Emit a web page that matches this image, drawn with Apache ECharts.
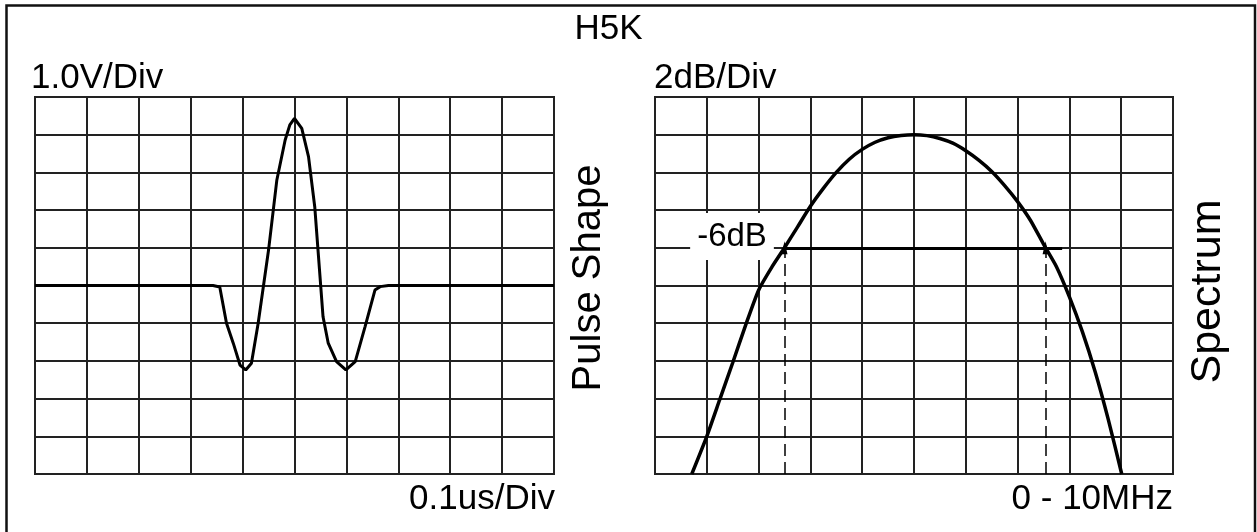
<!DOCTYPE html>
<html>
<head>
<meta charset="utf-8">
<script src="https://cdn.jsdelivr.net/npm/echarts@6/dist/echarts.min.js"></script>
<style>
  html, body { margin: 0; padding: 0; background: #fff; }
  #chart { width: 1257px; height: 532px; }
</style>
</head>
<body>
<div id="chart"></div>
<script>
// Pulse shape: time in ns (100 ns per division), amplitude in volts (1 V per division)
const pulseTimeNs = [0, 343, 356, 369, 382, 395, 406, 417, 430, 450, 466, 482, 491, 500, 514, 527, 539, 555, 565, 581, 599, 617, 636, 655, 665, 681, 1000];
const pulseVolts  = [0, 0, -0.04, -1.0, -1.53, -2.11, -2.24, -2.06, -1.0, 0.94, 2.80, 3.86, 4.26, 4.43, 4.17, 3.42, 2.09, -0.83, -1.53, -2.02, -2.24, -2.02, -1.09, -0.12, -0.03, 0, 0];

// Spectrum: frequency in MHz (0 - 10 MHz), level in dB relative to the peak (2 dB per division)
const specFreqMHz = [0.71, 1.00, 1.25, 1.50, 1.75, 2.00, 2.25, 2.50, 2.75, 3.00, 3.25, 3.50, 3.75, 4.00, 4.25, 4.50, 4.75, 5.00, 5.25, 5.50, 5.75, 6.00, 6.25, 6.50, 6.75, 7.00, 7.25, 7.50, 7.75, 8.00, 8.25, 8.50, 8.75, 9.01];
const specLevelDb = [-18, -16.0, -14.05, -12.1, -10.1, -8.25, -7.05, -6.0, -4.9, -3.8, -2.85, -2.0, -1.3, -0.78, -0.4, -0.16, -0.04, 0, -0.05, -0.2, -0.45, -0.85, -1.35, -1.95, -2.7, -3.55, -4.55, -5.8, -7.0, -8.6, -10.45, -12.6, -15.1, -18];

// -6 dB bandwidth markers
const halfPowerDb = -6;
const lowerEdgeMHz = 2.50;
const upperEdgeMHz = 7.54;
const bandLineEndMHz = 7.86;

// Text drawn on the screen
const titleText = 'H5K';
const pulseVScaleText = '1.0V/Div';
const pulseHScaleText = '0.1us/Div';
const pulseNameText = 'Pulse Shape';
const specVScaleText = '2dB/Div';
const specHScaleText = '0 - 10MHz';
const specNameText = 'Spectrum';
const halfPowerText = '-6dB';

const FONT = '"Liberation Sans", Arial, sans-serif';
const GRID_LINE = { color: '#222', width: 2 };

function zip(xs, ys) { return xs.map((x, i) => [x, ys[i]]); }

function hiddenAxis(extra) {
  return Object.assign({
    type: 'value',
    axisLine: { show: false },
    axisTick: { show: false },
    axisLabel: { show: false },
    splitLine: { show: true, lineStyle: GRID_LINE }
  }, extra);
}

function text(str, x, y, size, align, opts) {
  return Object.assign({
    type: 'text',
    x: x, y: y,
    z: 10,
    silent: true,
    style: {
      text: str,
      font: size + 'px ' + FONT,
      fill: '#000',
      align: align,
      verticalAlign: 'middle'
    }
  }, opts || {});
}

const chart = echarts.init(document.getElementById('chart'), null, { renderer: 'canvas' });

chart.setOption({
  animation: false,
  backgroundColor: '#fff',
  grid: [
    { left: 35, top: 97, width: 519, height: 377, show: true, borderColor: '#222', borderWidth: 2 },
    { left: 655, top: 97, width: 518, height: 377, show: true, borderColor: '#222', borderWidth: 2 }
  ],
  xAxis: [
    hiddenAxis({ gridIndex: 0, min: 0, max: 1000, interval: 100 }),
    hiddenAxis({ gridIndex: 1, min: 0, max: 10, interval: 1 })
  ],
  yAxis: [
    hiddenAxis({ gridIndex: 0, min: -5, max: 5, interval: 1 }),
    hiddenAxis({ gridIndex: 1, min: -18, max: 2, interval: 2 })
  ],
  series: [
    {
      type: 'line',
      xAxisIndex: 0, yAxisIndex: 0,
      data: zip(pulseTimeNs, pulseVolts),
      showSymbol: false,
      symbol: 'none',
      silent: true,
      lineStyle: { color: '#000', width: 3 },
      z: 5
    },
    {
      type: 'line',
      xAxisIndex: 1, yAxisIndex: 1,
      data: zip(specFreqMHz, specLevelDb),
      smooth: 0.2,
      showSymbol: false,
      symbol: 'none',
      silent: true,
      lineStyle: { color: '#000', width: 3.5 },
      z: 5,
      markLine: {
        silent: true,
        animation: false,
        label: { show: false },
        emphasis: { disabled: true },
        data: [
          [
            { coord: [lowerEdgeMHz, halfPowerDb], symbol: 'none', lineStyle: { type: 'solid', width: 3, color: '#000' } },
            { coord: [bandLineEndMHz, halfPowerDb], symbol: 'none' }
          ],
          [
            { coord: [lowerEdgeMHz, -18], symbol: 'none', lineStyle: { type: [12, 6], width: 1.5, color: '#000' } },
            { coord: [lowerEdgeMHz, halfPowerDb], symbol: 'triangle', symbolSize: [6, 13] }
          ],
          [
            { coord: [upperEdgeMHz, -18], symbol: 'none', lineStyle: { type: [12, 6], width: 1.5, color: '#000' } },
            { coord: [upperEdgeMHz, halfPowerDb], symbol: 'triangle', symbolSize: [6, 13] }
          ]
        ]
      }
    }
  ],
  graphic: [
    {
      type: 'rect',
      silent: true,
      z: 20,
      shape: { x: 6.5, y: 5.5, width: 1248.5, height: 545 },
      style: { fill: 'none', stroke: '#111', lineWidth: 2.5 }
    },
    text(titleText, 608.5, 29.5, 35, 'center'),
    text(pulseVScaleText, 31, 78, 35, 'left'),
    text(specVScaleText, 654, 78, 35, 'left'),
    text(pulseHScaleText, 555, 499.5, 35, 'right'),
    text(specHScaleText, 1173, 499.5, 35, 'right'),
    text(pulseNameText, 589, 278, 40, 'center', { rotation: Math.PI / 2 }),
    text(specNameText, 1208, 291.5, 43, 'center', { rotation: Math.PI / 2 }),
    {
      type: 'text',
      x: 732, y: 236.5,
      z: 10,
      silent: true,
      style: {
        text: halfPowerText,
        font: '33px ' + FONT,
        fill: '#000',
        align: 'center',
        verticalAlign: 'middle',
        backgroundColor: '#fff',
        padding: [9.5, 7, 4.5, 7]
      }
    }
  ]
});
</script>
</body>
</html>
